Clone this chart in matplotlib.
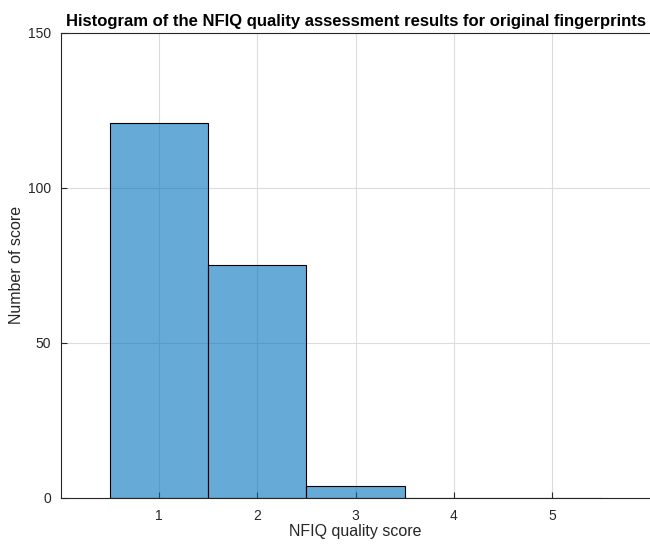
import matplotlib
matplotlib.use("Agg")
import matplotlib.pyplot as plt

# NFIQ scores and how many fingerprints got each
scores = [1, 2, 3, 4, 5]
counts = [121, 75, 4, 0, 0]

plt.rcParams['font.family'] = ['Liberation Sans', 'DejaVu Sans']

fig = plt.figure(figsize=(6.5, 5.46), dpi=100)
ax = fig.add_axes([0.094, 0.088, 0.906, 0.852])

ax.bar(scores, counts, width=1.0, facecolor=(0.0, 0.447, 0.741, 0.6),
       edgecolor="black", linewidth=0.8, zorder=2)

ax.set_xlim(0, 6)
ax.set_ylim(0, 150)
ax.set_xticks([1, 2, 3, 4, 5])
ax.set_yticks([0, 50, 100, 150])
ax.grid(True, color="#dcdcdc", linewidth=0.8, zorder=0)
ax.set_axisbelow(True)
ax.tick_params(direction="in", length=4, labelsize=10, colors="#262626",
               top=False, right=False, pad=7)
ax.tick_params(axis="x", pad=8)
for s in ax.spines.values():
    s.set_color("#262626")
    s.set_linewidth(0.8)
ax.spines["right"].set_visible(False)

ax.set_xlabel("NFIQ quality score", fontsize=11.5, color="#262626", labelpad=1)
ax.set_ylabel("Number of score", fontsize=11.5, color="#262626", labelpad=3)
ax.set_title("Histogram of the NFIQ quality assessment results for original fingerprints",
             fontsize=12, fontweight="bold", pad=5)

fig.savefig("out.png", dpi=100)
